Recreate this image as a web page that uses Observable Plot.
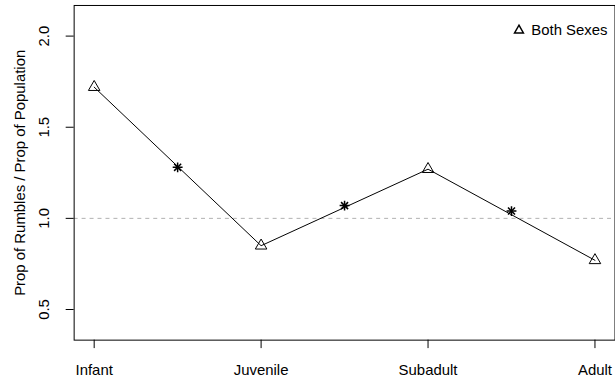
<!DOCTYPE html>
<html>
<head>
<meta charset="utf-8">
<script src="https://cdn.jsdelivr.net/npm/d3@7"></script>
<script src="https://cdn.jsdelivr.net/npm/@observablehq/plot@0.6"></script>
<style>
  html, body { margin: 0; padding: 0; background: #fff; }
  #chart { width: 615px; height: 385px; overflow: hidden; }
</style>
</head>
<body>
<div id="chart"></div>
<script>
// Age classes and the ratio of rumble share to population share
const stages = ["Infant", "Juvenile", "Subadult", "Adult"];
const ratio = [1.72, 0.85, 1.27, 0.77];

// Transition markers between consecutive age classes
const midPositions = [1.5, 2.5, 3.5];
const midValues = [1.28, 1.07, 1.04];

const yTicks = [0.5, 1.0, 1.5, 2.0];
const legendLabel = "Both Sexes";
const yTitle = "Prop of Rumbles / Prop of Population";

const points = stages.map((s, i) => ({stage: s, pos: i + 1, value: ratio[i]}));
const mids = midPositions.map((p, i) => ({pos: p, value: midValues[i]}));

const chart = Plot.plot({
  width: 618,
  height: 385,
  marginLeft: 74,
  marginRight: 0.5,
  marginTop: 5,
  marginBottom: 43.7,
  style: {
    fontFamily: "'Liberation Sans', Arial, Helvetica, sans-serif",
    fontSize: "15px",
    color: "black",
    background: "white",
    overflow: "visible"
  },
  x: {domain: [0.88, 4.12]},
  y: {domain: [0.332, 2.168]},
  marks: [
    Plot.ruleY([1], {stroke: "#b0b0b0", strokeDasharray: "4,4"}),
    Plot.line(points, {x: "pos", y: "value", stroke: "black", strokeWidth: 1}),
    Plot.dot(points, {x: "pos", y: "value", symbol: "triangle", r: 4.3, stroke: "black", fill: "none", strokeWidth: 1}),
    Plot.dot(mids, {x: "pos", y: "value", symbol: "plus", r: 3.3, stroke: "black", strokeWidth: 1.5}),
    Plot.dot(mids, {x: "pos", y: "value", symbol: "times", r: 3.3, stroke: "black", strokeWidth: 1.5}),
    Plot.axisX({ticks: [1, 2, 3, 4], tickFormat: d => stages[d - 1], tickSize: 8.5, tickPadding: 15.5, label: null}),
    Plot.axisY({ticks: yTicks, tickSize: 8, tickFormat: () => "", label: null}),
    Plot.text(yTicks, {y: d => d, text: d => d3.format(".1f")(d), frameAnchor: "left", dx: -25.5, rotate: -90, textAnchor: "middle", lineAnchor: "bottom"}),
    Plot.text([yTitle], {frameAnchor: "left", dx: -54, rotate: -90, textAnchor: "middle", lineAnchor: "middle"}),
    Plot.frame({stroke: "black"}),
    Plot.dot([legendLabel], {frameAnchor: "top-right", dx: -96.5, dy: 25, symbol: "triangle", r: 3.3, stroke: "black", fill: "none"}),
    Plot.text([legendLabel], {frameAnchor: "top-right", dx: -7.5, dy: 25, textAnchor: "end", lineAnchor: "middle"})
  ]
});

document.getElementById("chart").appendChild(chart);
</script>
</body>
</html>
